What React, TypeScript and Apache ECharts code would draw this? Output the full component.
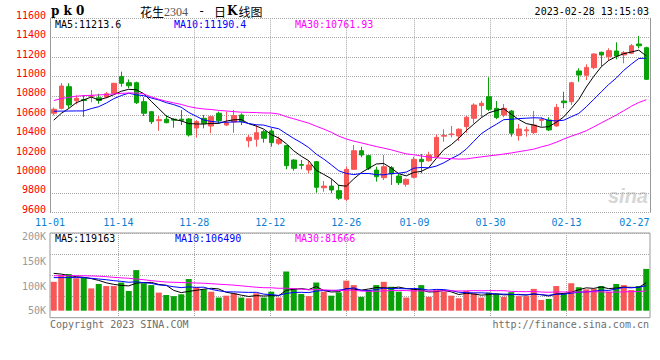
import React, { useEffect, useRef } from 'react';
import * as echarts from 'echarts';

// ---------- data ----------
const dates = [
  '11-01','11-02','11-03','11-04','11-07','11-08','11-09','11-10','11-11','11-14',
  '11-15','11-16','11-17','11-18','11-21','11-22','11-23','11-24','11-25','11-28',
  '11-29','11-30','12-01','12-02','12-05','12-06','12-07','12-08','12-09','12-12',
  '12-13','12-14','12-15','12-16','12-19','12-20','12-21','12-22','12-23','12-26',
  '12-27','12-28','12-29','12-30','01-03','01-04','01-05','01-06','01-09','01-10',
  '01-11','01-12','01-13','01-16','01-17','01-18','01-19','01-20','01-30','01-31',
  '02-01','02-02','02-03','02-06','02-07','02-08','02-09','02-10','02-13','02-14',
  '02-15','02-16','02-17','02-20','02-21','02-22','02-23','02-24','02-27','02-28',
];

const opens = [
  10621,10672,10895,10750,10762,10795,10780,10788,10827,11000,
  10936,10936,10740,10637,10545,10559,10560,10560,10562,10469,
  10569,10490,10621,10500,10530,10603,10338,10353,10431,10438,
  10311,10287,10139,10092,10036,10122,9853,9870,9823,9734,
  10043,10235,10184,10036,9957,10060,9974,9889,9961,10146,
  10132,10173,10385,10400,10387,10483,10569,10700,10792,10672,
  10603,10644,10390,10440,10421,10548,10552,10490,10747,10740,
  11057,11012,11091,11250,11204,11263,11222,11239,11335,11297,
];
const closes = [
  10662,10902,10706,10775,10752,10805,10753,10822,10930,10930,
  10905,10730,10621,10534,10555,10524,10550,10548,10397,10535,
  10517,10586,10545,10520,10597,10534,10373,10421,10363,10318,
  10353,10081,10053,10085,10088,9858,9870,9830,9745,10043,
  10235,10191,10054,9967,10070,9995,9905,9940,10146,10122,
  10191,10373,10392,10408,10456,10580,10706,10724,10662,10577,
  10672,10415,10459,10450,10500,10556,10449,10682,10730,10936,
  11015,11094,11232,11222,11266,11211,11246,11317,11317,10971,
];
const lows = [
  10600,10660,10672,10712,10585,10735,10719,10775,10820,10895,
  10878,10716,10593,10510,10440,10518,10472,10500,10380,10370,
  10466,10415,10518,10490,10420,10500,10270,10277,10318,10277,
  10294,10043,10029,10043,10002,9802,9812,9796,9727,9717,
  10036,10167,10036,9916,9933,9882,9882,9864,9950,10002,
  10122,10167,10328,10373,10335,10420,10518,10580,10644,10560,
  10580,10380,10338,10380,10407,10483,10438,10483,10672,10706,
  10946,10964,11075,11108,11163,11177,11136,11230,11290,10964,
];
const highs = [
  10680,10932,10930,10805,10810,10861,10822,10840,10935,11050,
  10970,10946,10786,10645,10593,10603,10570,10655,10570,10552,
  10603,10590,10638,10640,10655,10620,10397,10500,10449,10466,
  10380,10294,10146,10139,10129,10129,9923,9943,9882,10070,
  10294,10276,10191,10070,10191,10077,9995,9950,10173,10201,
  10225,10404,10456,10490,10466,10593,10724,10750,10992,10747,
  10716,10655,10510,10483,10645,10580,10580,10716,10843,10946,
  11085,11126,11240,11256,11291,11353,11263,11335,11418,11307,
];
const volumes = [
  123000,152000,156000,138000,142000,95000,114000,105000,105000,120000,
  84000,173000,117000,109000,77000,67000,62000,70000,135000,100000,
  91000,81000,56000,64000,74000,56000,53000,74000,56000,81000,
  56000,167000,95000,71000,62000,120000,81000,64000,78000,128000,
  109000,59000,88000,109000,123000,102000,81000,56000,93000,109000,
  59000,88000,81000,64000,53000,84000,74000,56000,77000,71000,
  59000,79000,62000,62000,93000,46000,50000,105000,74000,117000,
  100000,91000,93000,105000,81000,114000,109000,88000,105000,178000,
];

// moving-average values at the start of the window (they depend on earlier days)
const ma5Head = [10550, 10620, 10670, 10730];
const ma10Head = [10642, 10643, 10644, 10645, 10645, 10669, 10689, 10726, 10771];
const ma30Head = [
  10752,10772,10785,10797,10803,10806,10810,10814,10820,10826,
  10830,10830,10820,10790,10765,10745,10728,10712,10690,10675,
  10665,10660,10650,10645,10638,10632,10630,10628,10624,
];
const volMa5Head = [159000, 156000, 150000, 145000];
const volMa10Head = [141000, 141000, 141000, 141000, 141000, 138000, 135000, 132000, 128000];
const volMa30Head = [
  149000,149000,149000,149000,149000,148000,147000,145000,142000,140000,
  138000,135000,132000,128000,125000,122000,121000,120000,119000,118000,
  117000,115000,113000,111000,109000,106000,103000,100000,98000,
];

// legend readouts
const priceMaText = ['MA5:11213.6', 'MA10:11190.4', 'MA30:10761.93'];
const volMaText = ['MA5:119163', 'MA10:106490', 'MA30:81666'];

// axis ticks
const gridDates = ['11-14', '11-28', '12-12', '12-26', '01-09', '01-30', '02-13'];
const labelDates = ['11-01', ...gridDates, '02-27'];
const volLabelValues = [50000, 100000, 150000, 200000];

// ---------- styling ----------
const RED = '#f95656';
const GREEN = '#08a108';
const MONO = "'DejaVu Sans Mono', monospace";
const GRID_LINE = { color: '#a8a8a8', type: [1, 1] as number[], width: 1 };

function movingAverage(values: number[], n: number, head: number[]) {
  return values.map((_, i) => {
    if (i < n - 1) return head[i];
    let s = 0;
    for (let k = i - n + 1; k <= i; k++) s += values[k];
    return Math.round((s / n) * 100) / 100;
  });
}

function buildOption() {
  const gridIdx = gridDates.map((d) => dates.indexOf(d));
  const labelIdx = labelDates.map((d) => dates.indexOf(d));
  const lastLabel = labelIdx[labelIdx.length - 1];

  const candle = opens.map((o, i) => [o, closes[i], lows[i], highs[i]]);
  const volBars = volumes.map((v, i) => ({
    value: v,
    itemStyle: { color: closes[i] >= opens[i] ? RED : GREEN },
  }));

  const line = (name: string, data: number[], color: string, xi: number, yi: number) => ({
    name,
    type: 'line',
    xAxisIndex: xi,
    yAxisIndex: yi,
    data,
    symbol: 'none',
    silent: true,
    lineStyle: { color, width: 1 },
    z: 5,
  });

  const txt = (x: number, y: number, text: string, fill: string, extra: any = {}) => ({
    type: 'text',
    x,
    y,
    silent: true,
    style: { text, fill, font: `10px ${MONO}`, verticalAlign: 'middle', ...extra },
  });

  return {
    animation: false,
    backgroundColor: '#ffffff',
    grid: [
      { left: 50, top: 18.3, width: 600, height: 194, show: false },
      {
        left: 50, top: 233, width: 600, height: 84.7, show: true,
        borderColor: '#999', borderWidth: 1, backgroundColor: 'transparent',
      },
    ],
    xAxis: [
      { type: 'category', gridIndex: 0, position: 'bottom', data: dates, boundaryGap: true, show: false },
      {
        type: 'category', gridIndex: 0, position: 'bottom', data: dates, boundaryGap: false,
        axisLine: { show: false }, axisTick: { show: false },
        splitLine: { show: true, interval: (i: number) => gridIdx.includes(i), lineStyle: GRID_LINE },
        axisLabel: {
          interval: (i: number) => labelIdx.includes(i),
          color: '#0b7fd2', fontFamily: MONO, fontSize: 10, margin: 5,
          formatter: (v: string, i: number) => (i === lastLabel ? `{end|${v}}` : v),
          rich: { end: { color: '#0b7fd2', fontFamily: MONO, fontSize: 10, padding: [0, 16, 0, 0] } },
        },
      },
      { type: 'category', gridIndex: 1, position: 'bottom', data: dates, boundaryGap: true, show: false },
      {
        type: 'category', gridIndex: 1, position: 'bottom', data: dates, boundaryGap: false,
        axisLine: { show: false }, axisTick: { show: false }, axisLabel: { show: false },
        splitLine: { show: true, interval: (i: number) => gridIdx.includes(i), lineStyle: GRID_LINE },
      },
    ],
    yAxis: [
      {
        type: 'value', gridIndex: 0, position: 'left', min: 9600, max: 11600, interval: 200,
        axisLine: { show: true, lineStyle: { color: '#999' } }, axisTick: { show: false },
        axisLabel: {
          color: '#ff0000', fontFamily: MONO, fontSize: 10, margin: 4,
          verticalAlign: 'bottom', lineHeight: 6,
          formatter: (v: number) => String(v),
        },
        splitLine: { show: true, lineStyle: GRID_LINE },
      },
      {
        type: 'value', gridIndex: 0, position: 'right', min: 9600, max: 11600, interval: 200,
        axisLine: { show: true, lineStyle: { color: '#999' } }, axisTick: { show: false },
        axisLabel: { show: false }, splitLine: { show: false },
      },
      { type: 'value', gridIndex: 1, position: 'left', min: -29820, max: 331000, show: false, splitLine: { show: false } },
      {
        type: 'value', gridIndex: 1, position: 'left', min: 36500, max: 207000, splitNumber: 4,
        axisLine: { show: false }, axisTick: { show: false }, splitLine: { show: false },
        axisLabel: {
          color: '#9a9a9a', fontFamily: MONO, fontSize: 10, margin: 4,
          showMinLabel: false, showMaxLabel: false,
          formatter: (v: number) => (volLabelValues.includes(v) ? `${v / 1000}K` : ''),
        },
      },
      {
        type: 'value', gridIndex: 1, position: 'left', min: 0, max: 4, interval: 1,
        axisLine: { show: false }, axisTick: { show: false }, axisLabel: { show: false },
        splitLine: { show: true, lineStyle: GRID_LINE },
      },
    ],
    series: [
      {
        name: 'K', type: 'candlestick', xAxisIndex: 0, yAxisIndex: 0, data: candle,
        barWidth: 5, silent: true,
        itemStyle: { color: RED, color0: GREEN, borderColor: RED, borderColor0: GREEN, borderWidth: 1 },
      },
      line('MA5', movingAverage(closes, 5, ma5Head), '#000000', 0, 0),
      line('MA10', movingAverage(closes, 10, ma10Head), '#0000ff', 0, 0),
      line('MA30', movingAverage(closes, 30, ma30Head), '#ff00ff', 0, 0),
      {
        name: 'VOL', type: 'bar', xAxisIndex: 2, yAxisIndex: 2, data: volBars,
        barWidth: 6, silent: true,
      },
      line('VMA5', movingAverage(volumes, 5, volMa5Head), '#000000', 2, 2),
      line('VMA10', movingAverage(volumes, 10, volMa10Head), '#0000ff', 2, 2),
      line('VMA30', movingAverage(volumes, 30, volMa30Head), '#ff00ff', 2, 2),
    ],
    graphic: [
      { type: 'text', x: 51, y: 11, silent: true,
        style: { text: 'p k 0', fill: '#000', font: "bold 12px 'DejaVu Serif'", verticalAlign: 'middle' } },
      { type: 'text', x: 140, y: 11, silent: true,
        style: { text: '花生', fill: '#000', font: "12px 'Noto Sans CJK SC'", verticalAlign: 'middle' } },
      { type: 'text', x: 164, y: 12, silent: true,
        style: { text: '2304', fill: '#555', font: "12px 'Liberation Serif'", verticalAlign: 'middle' } },
      { type: 'text', x: 198, y: 11, silent: true,
        style: { text: '-', fill: '#000', font: `12px ${MONO}`, verticalAlign: 'middle' } },
      { type: 'text', x: 214, y: 11, silent: true,
        style: {
          text: '{c|日}{k|K}{c|线图}', verticalAlign: 'middle',
          rich: {
            c: { fill: '#000', font: "12px 'Noto Sans CJK SC'" },
            k: { fill: '#000', font: "bold 12px 'DejaVu Serif'", padding: [0, 1, 0, 1] },
          },
        } },
      txt(649, 11, '2023-02-28 13:15:03', '#000', { align: 'right' }),
      txt(55, 24, priceMaText[0], '#000'),
      txt(174, 24, priceMaText[1], '#0000ff'),
      txt(295, 24, priceMaText[2], '#ff00ff'),
      txt(55, 238.5, volMaText[0], '#000'),
      txt(175, 238.5, volMaText[1], '#0000ff'),
      txt(295, 238.5, volMaText[2], '#ff00ff'),
      txt(50, 324, 'Copyright 2023 SINA.COM', '#6e6e6e'),
      txt(649, 324, 'http://finance.sina.com.cn', '#6e6e6e', { align: 'right' }),
      { type: 'text', x: 648, y: 196, silent: true, z: -1,
        style: { text: 'sina', fill: '#d6d6d6', font: "italic bold 20px 'Liberation Sans'", align: 'right', verticalAlign: 'middle' } },
    ],
  };
}

export default function App() {
  const ref = useRef<HTMLDivElement>(null);
  useEffect(() => {
    document.body.style.margin = '0';
    if (!ref.current) return;
    const chart = echarts.init(ref.current, null, { renderer: 'svg' });
    chart.setOption(buildOption() as any);
    return () => chart.dispose();
  }, []);
  return <div ref={ref} style={{ width: 660, height: 360 }} />;
}
